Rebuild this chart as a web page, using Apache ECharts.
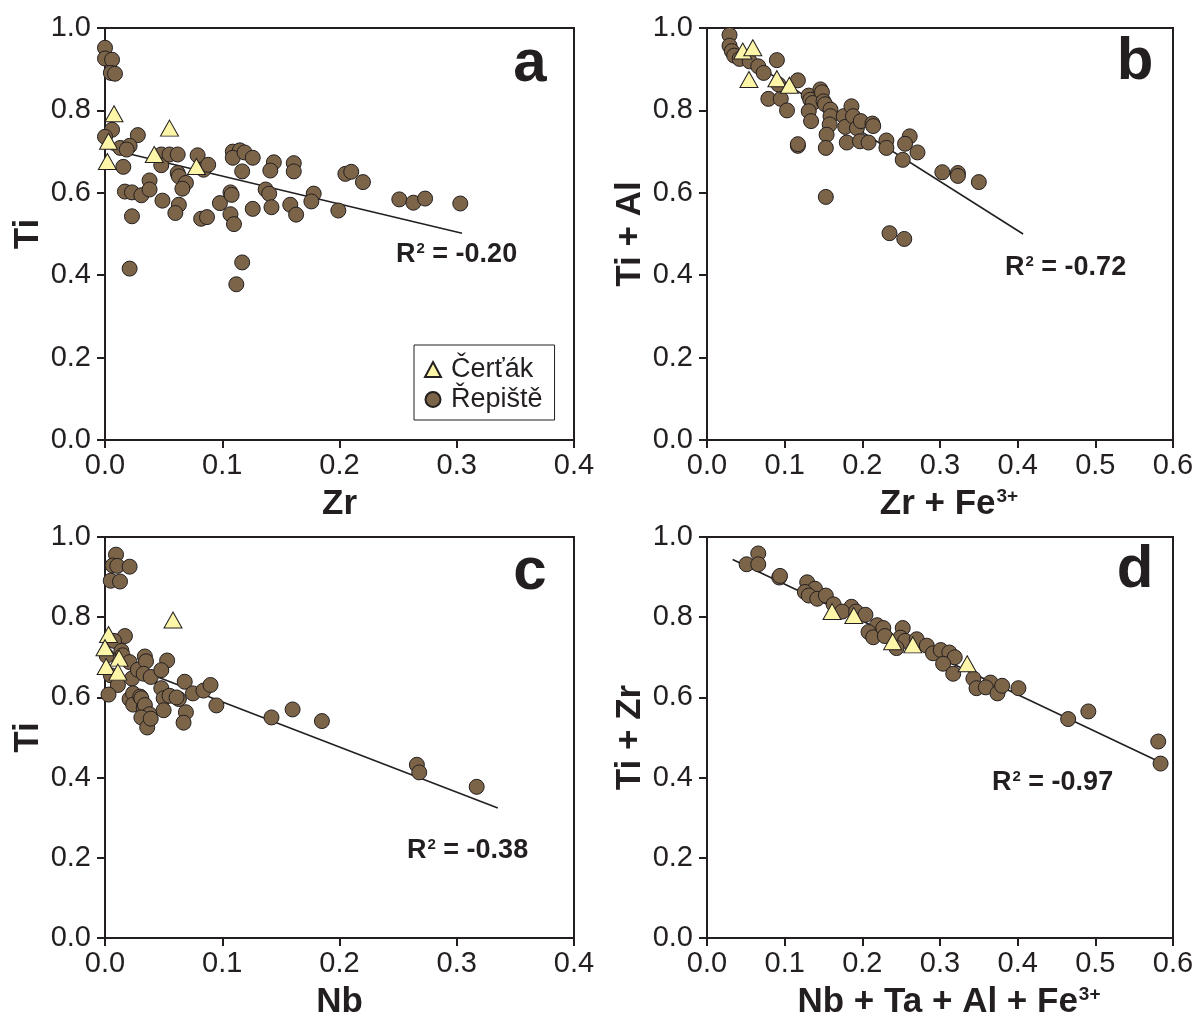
<!DOCTYPE html>
<html>
<head>
<meta charset="utf-8">
<script src="https://cdn.jsdelivr.net/npm/echarts@6/dist/echarts.min.js"></script>
<style>
html,body{margin:0;padding:0;background:#fff;overflow:hidden;}
#main{width:1198px;height:1021px;}
</style>
</head>
<body>
<div id="main"></div>
<script>
// ---- Data ----
// Panel a: Zr vs Ti
const aRepiste = [[0.0,0.952],[0.0,0.926],[0.006,0.923],[0.005,0.891],[0.0085,0.889],[0.006,0.753],[0.0,0.736],[0.028,0.74],[0.013,0.709],[0.021,0.714],[0.0185,0.705],[0.0156,0.663],[0.017,0.603],[0.023,0.601],[0.031,0.594],[0.038,0.63],[0.038,0.608],[0.049,0.581],[0.023,0.543],[0.021,0.416],[0.048,0.693],[0.048,0.667],[0.055,0.693],[0.062,0.693],[0.062,0.648],[0.063,0.64],[0.069,0.624],[0.066,0.61],[0.063,0.571],[0.06,0.551],[0.079,0.691],[0.084,0.656],[0.088,0.668],[0.082,0.537],[0.087,0.541],[0.098,0.575],[0.107,0.601],[0.108,0.595],[0.107,0.548],[0.11,0.524],[0.109,0.70],[0.115,0.703],[0.109,0.685],[0.119,0.698],[0.117,0.652],[0.126,0.685],[0.117,0.431],[0.112,0.378],[0.126,0.561],[0.137,0.608],[0.14,0.598],[0.142,0.565],[0.144,0.674],[0.141,0.654],[0.161,0.672],[0.161,0.652],[0.158,0.571],[0.163,0.547],[0.178,0.598],[0.176,0.579],[0.199,0.557],[0.205,0.646],[0.21,0.651],[0.22,0.626],[0.251,0.584],[0.263,0.576],[0.273,0.586],[0.303,0.574]];
const aCertak = [[0.0077,0.792],[0.055,0.757],[0.003,0.725],[0.002,0.676],[0.042,0.693],[0.078,0.664]];
const aFit = [[0.005,0.705],[0.3045,0.502]];

// Panel b: Zr + Fe3+ vs Ti + Al
const bRepiste = [[0.029,0.983],[0.029,0.957],[0.032,0.944],[0.035,0.933],[0.042,0.925],[0.055,0.919],[0.066,0.907],[0.073,0.891],[0.09,0.922],[0.079,0.828],[0.095,0.828],[0.103,0.80],[0.117,0.873],[0.092,0.863],[0.117,0.714],[0.117,0.718],[0.131,0.836],[0.133,0.826],[0.136,0.818],[0.131,0.798],[0.134,0.774],[0.146,0.851],[0.148,0.844],[0.15,0.822],[0.152,0.815],[0.159,0.802],[0.159,0.786],[0.158,0.766],[0.154,0.741],[0.153,0.709],[0.153,0.59],[0.176,0.786],[0.178,0.76],[0.186,0.81],[0.188,0.786],[0.193,0.757],[0.198,0.774],[0.18,0.722],[0.197,0.725],[0.208,0.722],[0.213,0.768],[0.214,0.762],[0.231,0.727],[0.231,0.709],[0.235,0.502],[0.254,0.488],[0.261,0.737],[0.255,0.719],[0.271,0.698],[0.252,0.68],[0.303,0.65],[0.323,0.648],[0.323,0.641],[0.35,0.626]];
const bCertak = [[0.046,0.944],[0.059,0.952],[0.054,0.875],[0.09,0.877],[0.106,0.861]];
const bFit = [[0.03,0.95],[0.407,0.50]];

// Panel c: Nb vs Ti
const cRepiste = [[0.0094,0.956],[0.0066,0.929],[0.0105,0.928],[0.021,0.926],[0.0049,0.891],[0.0128,0.889],[0.017,0.753],[0.0077,0.741],[0.0014,0.704],[0.014,0.716],[0.015,0.705],[0.021,0.688],[0.005,0.655],[0.011,0.631],[0.003,0.607],[0.023,0.647],[0.028,0.669],[0.034,0.702],[0.035,0.69],[0.033,0.659],[0.039,0.651],[0.053,0.692],[0.048,0.668],[0.021,0.596],[0.024,0.61],[0.024,0.582],[0.03,0.602],[0.031,0.598],[0.033,0.574],[0.034,0.581],[0.038,0.558],[0.031,0.55],[0.036,0.525],[0.039,0.547],[0.048,0.623],[0.05,0.598],[0.05,0.568],[0.055,0.604],[0.063,0.596],[0.061,0.6],[0.068,0.639],[0.069,0.563],[0.067,0.537],[0.075,0.61],[0.084,0.617],[0.09,0.631],[0.095,0.58],[0.142,0.55],[0.16,0.57],[0.185,0.541],[0.266,0.432],[0.268,0.413],[0.317,0.377]];
const cCertak = [[0.058,0.793],[0.003,0.757],[0.0,0.724],[0.012,0.698],[0.001,0.677],[0.011,0.663]];
const cFit = [[0.01,0.69],[0.335,0.324]];

// Panel d: Nb + Ta + Al + Fe3+ vs Ti + Zr
const dRepiste = [[0.066,0.959],[0.051,0.932],[0.066,0.932],[0.093,0.899],[0.094,0.903],[0.129,0.887],[0.139,0.871],[0.126,0.863],[0.131,0.854],[0.142,0.846],[0.153,0.854],[0.163,0.832],[0.186,0.826],[0.174,0.814],[0.192,0.814],[0.204,0.806],[0.219,0.78],[0.208,0.763],[0.214,0.75],[0.227,0.773],[0.229,0.753],[0.252,0.773],[0.249,0.749],[0.255,0.741],[0.244,0.723],[0.27,0.745],[0.283,0.729],[0.291,0.71],[0.301,0.718],[0.312,0.712],[0.319,0.7],[0.304,0.684],[0.317,0.659],[0.343,0.647],[0.347,0.623],[0.365,0.637],[0.359,0.625],[0.374,0.61],[0.38,0.629],[0.401,0.623],[0.465,0.546],[0.491,0.565],[0.581,0.49],[0.584,0.435]];
const dCertak = [[0.161,0.814],[0.189,0.804],[0.239,0.739],[0.265,0.731],[0.335,0.684]];
const dFit = [[0.033,0.944],[0.583,0.439]];

const panelLetters = ['a','b','c','d'];
const r2Labels = ['-0.20','-0.72','-0.38','-0.97'];
const xMax = [0.4, 0.6, 0.4, 0.6];
const yMax = [1.0, 1.0, 1.0, 1.0];

// ---- Styles ----
const INK = '#231f20';
const FONT = "'Liberation Sans', Arial, Helvetica, sans-serif";
const BROWN = '#7c6449';
const YELLOW = '#fdf5a8';

const grids = [
  {left:105, top:28, width:469, height:412},
  {left:707, top:28, width:466, height:412},
  {left:105, top:537, width:469, height:410},
  {left:707, top:537, width:466, height:410}
];

const nameRich = {
  b:{fontFamily:FONT, fontWeight:'bold', fontSize:35, color:INK},
  s:{fontFamily:FONT, fontWeight:'bold', fontSize:19, color:INK, verticalAlign:'top', padding:[0,0,14,1]},
  p:{width:18}
};
const xNames = ['{b|Zr}', '{p|}{b|Zr + Fe}{s|3+}', '{b|Nb}', '{p|}{b|Nb + Ta + Al + Fe}{s|3+}'];
const yNames = ['{b|Ti}', '{b|Ti + Al}', '{b|Ti}', '{b|Ti + Zr}'];

function xAxis(i){
  return {
    gridIndex:i, type:'value', min:0, max:xMax[i], interval:0.1,
    name:xNames[i], nameLocation:'middle', nameGap:47,
    nameTextStyle:{rich:nameRich},
    axisLine:{show:true, onZero:false, lineStyle:{color:INK, width:2}},
    axisTick:{show:true, inside:false, length:8, lineStyle:{color:INK, width:2}},
    axisLabel:{color:INK, fontFamily:FONT, fontSize:29, margin:11, formatter:v=>v.toFixed(1)},
    splitLine:{show:false}
  };
}
function yAxis(i){
  return {
    gridIndex:i, type:'value', min:0, max:yMax[i], interval:0.2,
    name:yNames[i], nameLocation:'middle', nameGap:59, nameRotate:90,
    nameTextStyle:{rich:nameRich},
    axisLine:{show:true, onZero:false, lineStyle:{color:INK, width:2}},
    axisTick:{show:true, inside:false, length:8, lineStyle:{color:INK, width:2}},
    axisLabel:{color:INK, fontFamily:FONT, fontSize:29, margin:14, formatter:v=>v.toFixed(1)},
    splitLine:{show:false}
  };
}

const sets = [
  [aFit, aRepiste, aCertak],
  [bFit, bRepiste, bCertak],
  [cFit, cRepiste, cCertak],
  [dFit, dRepiste, dCertak]
];

const series = [];
sets.forEach((s, i) => {
  series.push({
    name:'fit'+i, type:'line', xAxisIndex:i, yAxisIndex:i, data:s[0],
    symbol:'none', lineStyle:{color:INK, width:1.6}, silent:true, z:1
  });
  series.push({
    name:'Řepiště', type:'scatter', xAxisIndex:i, yAxisIndex:i, data:s[1],
    symbol:'circle', symbolSize:15,
    itemStyle:{color:BROWN, borderColor:INK, borderWidth:1, opacity:1}, z:2
  });
  series.push({
    name:'Čerťák', type:'scatter', xAxisIndex:i, yAxisIndex:i, data:s[2],
    symbol:'triangle', symbolSize:[18,16],
    itemStyle:{color:YELLOW, borderColor:INK, borderWidth:1, opacity:1}, z:3
  });
});

const letterPos = [[530,64],[1135,62],[530,572],[1135,570]];
const r2Pos = [[396,255],[1005,268],[407,851],[992,783]];

const graphics = [];
panelLetters.forEach((t, i) => {
  graphics.push({
    type:'text', x:letterPos[i][0], y:letterPos[i][1], z:10,
    style:{text:t, fill:INK, font:"bold 60px " + FONT, align:'center', verticalAlign:'middle'}
  });
});
r2Labels.forEach((t, i) => {
  graphics.push({
    type:'text', x:r2Pos[i][0], y:r2Pos[i][1], z:10,
    style:{
      text:'{b|R}{s|2}{b| = ' + t + '}', align:'left', verticalAlign:'middle',
      rich:{
        b:{fontFamily:FONT, fontWeight:'bold', fontSize:27, fill:INK},
        s:{fontFamily:FONT, fontWeight:'bold', fontSize:15, fill:INK, verticalAlign:'top', padding:[0,0,10,1]}
      }
    }
  });
});

const option = {
  animation:false,
  backgroundColor:'#ffffff',
  grid: grids.map(g => Object.assign({show:true, borderColor:INK, borderWidth:2, backgroundColor:'transparent'}, g)),
  xAxis:[0,1,2,3].map(xAxis),
  yAxis:[0,1,2,3].map(yAxis),
  legend:{
    data:[{name:'Čerťák', icon:'triangle'}, {name:'Řepiště', icon:'circle'}],
    orient:'vertical', left:414, top:345,
    padding:[11,12,7,10], itemGap:3, itemWidth:16, itemHeight:15,
    borderColor:INK, borderWidth:1, borderRadius:0,
    backgroundColor:'#ffffff',
    textStyle:{color:INK, fontFamily:FONT, fontSize:27, padding:[0,0,0,5]},
    selectedMode:false
  },
  graphic:graphics,
  series:series
};

const chart = echarts.init(document.getElementById('main'), null, {renderer:'canvas'});
chart.setOption(option);
</script>
</body>
</html>
